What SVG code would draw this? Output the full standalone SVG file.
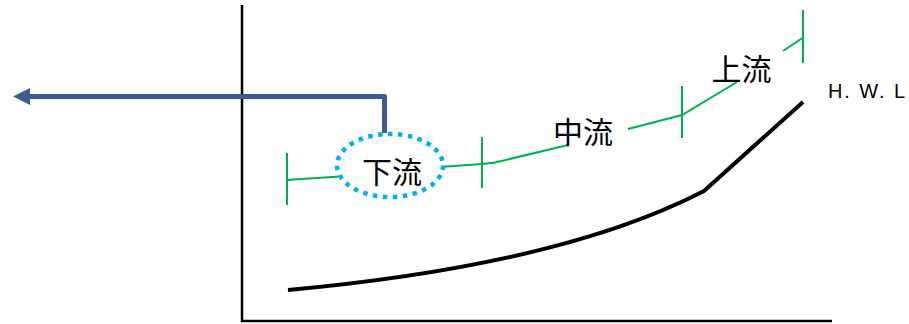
<svg xmlns="http://www.w3.org/2000/svg" width="909" height="324" viewBox="0 0 909 324">
  <style>
    .axis { stroke: #000; stroke-width: 2.5; fill: none; }
    .curve { stroke: #000; stroke-width: 4; fill: none; stroke-linejoin: round; }
    .green { stroke: #00B050; stroke-width: 2; fill: none; }
    .lbl { font-family: "Noto Sans CJK JP", "Noto Sans CJK SC", sans-serif; font-size: 30px; font-weight: normal; fill: #000; text-anchor: middle; dominant-baseline: central; }
    .hwl { font-family: "Liberation Sans", Arial, sans-serif; font-size: 20px; fill: #000; }
  </style>
  <rect width="909" height="324" fill="#fff"/>
  <g id="axes">
    <line class="axis" x1="242" y1="5" x2="242" y2="322"/>
    <line class="axis" x1="241" y1="321" x2="832" y2="321"/>
  </g>
  <g id="hwl-curve">
    <path class="curve" d="M288,290 C430,277 590,250 704,191 L803,102"/>
    <text class="hwl" x="828" y="98" textLength="77" lengthAdjust="spacing">H. W. L</text>
  </g>
  <g id="connectors">
    <polyline class="green" points="287,180 347,176"/>
    <polyline class="green" points="440,167 482,164 495,162.5 568,145"/>
    <polyline class="green" points="628,129 682,115 737,82"/>
    <polyline class="green" points="783,51 804,37"/>
    <line class="green" x1="287" y1="153" x2="287" y2="205"/>
    <line class="green" x1="482" y1="137" x2="482" y2="188"/>
    <line class="green" x1="682" y1="86" x2="682" y2="138"/>
    <line class="green" x1="803" y1="10" x2="803" y2="63"/>
    <path d="M384.5,133 V96.5 H27" fill="none" stroke="#3C5E8E" stroke-width="5" stroke-linejoin="round"/>
    <polygon points="13,96.5 30,88 30,105" fill="#3C5E8E"/>
  </g>
  <g id="node-downstream">
    <ellipse cx="390" cy="165.5" rx="53" ry="31.5" fill="#fff" stroke="#00B0F0" stroke-width="4.5" stroke-dasharray="4.5 5.5"/>
    <text class="lbl" x="392" y="170">下流</text>
  </g>
  <g id="node-midstream">
    <text class="lbl" x="583" y="130">中流</text>
  </g>
  <g id="node-upstream">
    <text class="lbl" x="741.5" y="66.5">上流</text>
  </g>
</svg>
